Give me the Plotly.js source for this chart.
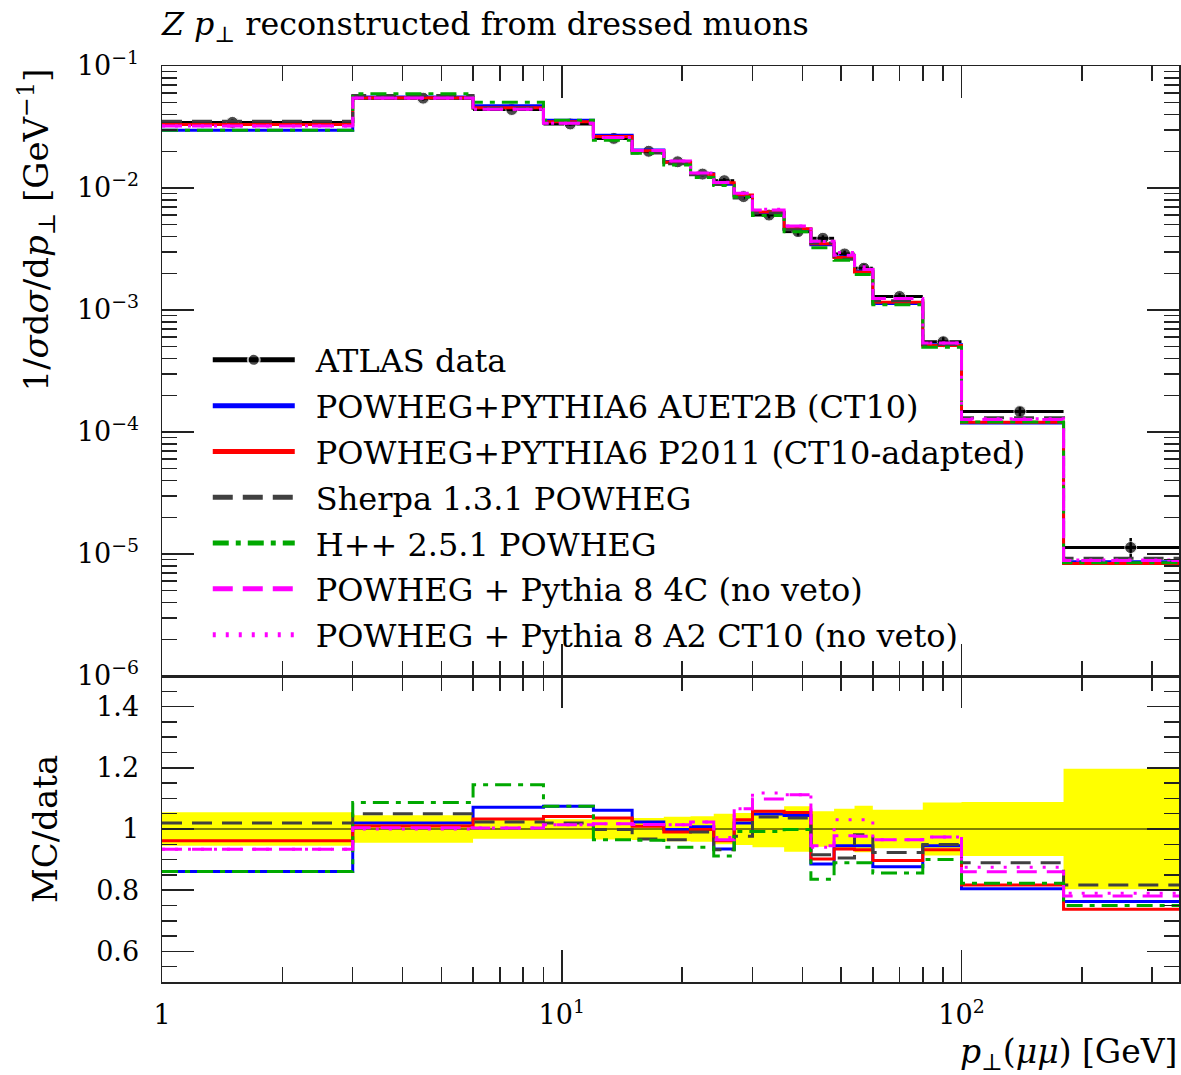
<!DOCTYPE html>
<html><head><meta charset="utf-8">
<script src="https://cdn.plot.ly/plotly-3.0.1.min.js"></script>
<style>html,body{margin:0;padding:0;background:#fff}</style>
</head><body>
<div id="chart" style="width:1181px;height:1075px"></div>
<script>
// ---- data ----
const binEdges = [0,3,6,9,12,15,18,21,24,27,30,36,42,48,54,60,80,100,180,350];
const atlasData = [0.0345,0.0545,0.0440,0.0335,0.0255,0.0200,0.0164,0.0130,0.01148,0.0085,
                   0.0060,0.00439,0.00387,0.00288,0.00220,0.00129,0.00055,0.000147,0.0000113];
const atlasRelErr = [0.055,0.045,0.032,0.032,0.034,0.036,0.040,0.042,0.050,0.052,
                     0.060,0.074,0.058,0.066,0.076,0.063,0.087,0.088,0.197];
const ratioAUET2B = [0.861,1.020,1.071,1.074,1.061,1.023,0.998,1.007,0.935,1.020,
                     1.049,1.044,0.886,0.945,0.945,0.877,0.945,0.805,0.763];
const ratioP2011  = [0.962,1.010,1.033,1.041,1.036,1.009,0.990,0.998,0.962,1.030,
                     1.058,1.054,0.902,0.935,0.932,0.897,0.932,0.817,0.738];
const ratioSherpa = [1.020,1.050,1.023,1.020,0.998,0.967,0.965,0.990,0.932,0.976,
                     1.039,1.036,0.916,0.905,0.981,0.923,0.949,0.890,0.817];
const ratioHerwig = [0.861,1.087,1.145,1.074,0.965,0.963,0.940,0.940,0.912,0.992,
                     0.992,0.998,0.836,0.890,0.890,0.856,0.900,0.823,0.750];
const ratioPy8_4C = [0.934,1.004,1.003,1.014,1.017,1.015,1.014,1.023,0.965,1.066,
                     1.098,1.112,0.945,0.978,0.976,0.965,0.974,0.860,0.781];
const ratioPy8_A2 = [0.934,1.000,1.003,1.014,1.017,1.015,1.014,1.023,0.972,1.066,
                     1.118,1.112,0.940,1.030,1.030,0.965,0.974,0.875,0.790];
const seriesNames = ['ATLAS data','POWHEG+PYTHIA6 AUET2B (CT10)','POWHEG+PYTHIA6 P2011 (CT10-adapted)',
                     'Sherpa 1.3.1 POWHEG','H++ 2.5.1 POWHEG','POWHEG + Pythia 8 4C (no veto)',
                     'POWHEG + Pythia 8 A2 CT10 (no veto)'];
const xTickVals = [1,10,100];
const xTickText = ['1','10<sup>1</sup>','10<sup>2</sup>'];
const yTickVals = [1e-6,1e-5,1e-4,1e-3,1e-2,1e-1];
const yTickText = ['10<sup>−6</sup>','10<sup>−5</sup>','10<sup>−4</sup>','10<sup>−3</sup>','10<sup>−2</sup>','10<sup>−1</sup>'];
const rTickVals = [0.6,0.8,1,1.2,1.4];
const rTickText = ['0.6','0.8','1','1.2','1.4'];

// ---- styles ----
const FONT = 'DejaVu Serif';
const xMin = 1, xMax = 350;
const styles = [
  {color:'#0000ff', dash:'solid'},
  {color:'#ff0000', dash:'solid'},
  {color:'#404040', dash:'20px,10px'},
  {color:'#00a800', dash:'16px,7px,5px,7px'},
  {color:'#ff00ff', dash:'20px,10px'},
  {color:'#ff00ff', dash:'3px,10px'}
];
const ratios = [ratioAUET2B, ratioP2011, ratioSherpa, ratioHerwig, ratioPy8_4C, ratioPy8_A2];

const plotEdges = binEdges.map(e => Math.max(e, xMin));
const stepY = v => v.concat([v[v.length-1]]);
const legendLabel = s => '\u2002' + s;

const traces = [];
// data trace in main panel: horizontal bin bars + centre marker + vertical error
const dx=[], dy=[], ds=[], de=[];
for (let i=0;i<atlasData.length;i++){
  const lo = plotEdges[i], hi = plotEdges[i+1], mid = (binEdges[i]+binEdges[i+1])/2;
  dx.push(lo, mid, hi, null);
  dy.push(atlasData[i], atlasData[i], atlasData[i], null);
  ds.push(0, 12, 0, 0);
  de.push(0, atlasData[i]*atlasRelErr[i], 0, 0);
}
traces.push({x:dx, y:dy, xaxis:'x', yaxis:'y', mode:'lines+markers', name:legendLabel(seriesNames[0]),
  legendgroup:'g0', line:{color:'#000', width:3}, marker:{color:'#000', size:ds},
  error_y:{type:'data', array:de, symmetric:true, width:0, thickness:2.5, color:'#000'},
  connectgaps:false});
// MC in main panel
ratios.forEach((r,k)=>{
  const vals = atlasData.map((d,i)=>d*r[i]);
  traces.push({x:plotEdges, y:stepY(vals), xaxis:'x', yaxis:'y', mode:'lines', name:legendLabel(seriesNames[k+1]),
    legendgroup:'g'+(k+1), line:{color:styles[k].color, dash:styles[k].dash, width:3, shape:'hv'}});
});
// ratio panel: band
const lowBand = atlasRelErr.map(e=>1-e), upBand = atlasRelErr.map(e=>1+e);
traces.push({x:plotEdges, y:stepY(lowBand), xaxis:'x2', yaxis:'y2', mode:'lines', showlegend:false,
  line:{width:0, shape:'hv', color:'#ffff00'}, hoverinfo:'skip'});
traces.push({x:plotEdges, y:stepY(upBand), xaxis:'x2', yaxis:'y2', mode:'lines', showlegend:false,
  fill:'tonexty', fillcolor:'#ffff00', line:{width:0, shape:'hv', color:'#ffff00'}, hoverinfo:'skip'});
traces.push({x:plotEdges, y:stepY(atlasData.map(d=>d/d)), xaxis:'x2', yaxis:'y2', mode:'lines', showlegend:false,
  line:{width:1.2, shape:'hv', color:'#000'}});
ratios.forEach((r,k)=>{
  traces.push({x:plotEdges, y:stepY(r), xaxis:'x2', yaxis:'y2', mode:'lines', showlegend:false,
    line:{color:styles[k].color, dash:styles[k].dash, width:3, shape:'hv'}});
});

// minor tick positions
const minorX=[]; [1,10,100].forEach(d=>{for(let m=2;m<=9;m++){const v=m*d; if(v<=xMax) minorX.push(v);}});
const minorY=[]; for(let p=-6;p<=-2;p++){for(let m=2;m<=9;m++) minorY.push(m*Math.pow(10,p));}
const minorR=[]; for(let i=11;i<30;i++){ if(i%4!==0) minorR.push(i*0.05); }

const tc='#222';
const axBase = {showline:true, linecolor:tc, linewidth:1.5, mirror:'allticks', ticks:'inside',
  ticklen:32, tickwidth:1.5, tickcolor:tc, showgrid:false, zeroline:false, tickmode:'array',
  tickfont:{family:FONT, size:27, color:'#000'}};
const minorBase = {tickmode:'array', ticks:'inside', ticklen:15, tickwidth:1.5, tickcolor:tc, showgrid:false};

const split = 306/916;
const layout = {
  width:1181, height:1075,
  margin:{l:162, r:2, t:66, b:93},
  paper_bgcolor:'#fff', plot_bgcolor:'rgba(0,0,0,0)',
  showlegend:true,
  title:{text:'<i>Z</i> <i>p</i><sub>⊥</sub> reconstructed from dressed muons',
    xref:'paper', x:0, xanchor:'left', yref:'container', y:1-24/1075, yanchor:'middle',
    font:{family:FONT, size:31.7, color:'#000'}},
  xaxis:Object.assign({}, axBase, {type:'log', range:[0, Math.log10(xMax)], anchor:'y', domain:[0,1],
    tickvals:xTickVals, showticklabels:false, minor:Object.assign({tickvals:minorX}, minorBase)}),
  xaxis2:Object.assign({}, axBase, {type:'log', range:[0, Math.log10(xMax)], anchor:'y2', domain:[0,1],
    tickvals:xTickVals, ticktext:xTickText, ticklabelstandoff:8, minor:Object.assign({tickvals:minorX}, minorBase)}),
  yaxis:Object.assign({}, axBase, {type:'log', range:[-6,-1], anchor:'x', domain:[split,1],
    tickvals:yTickVals, ticktext:yTickText, ticklabelstandoff:16, minor:Object.assign({tickvals:minorY}, minorBase)}),
  yaxis2:Object.assign({}, axBase, {range:[0.5,1.5], anchor:'x2', domain:[0,split],
    tickvals:rTickVals, ticktext:rTickText, ticklabelstandoff:16, minor:Object.assign({tickvals:minorR}, minorBase)}),
  legend:{x:0.045, xanchor:'left', y:0.709, yanchor:'top', bgcolor:'rgba(0,0,0,0)', borderwidth:0,
    font:{family:FONT, size:32, color:'#000'}, itemwidth:82, itemsizing:'constant',
    traceorder:'grouped', tracegroupgap:1.2},
  annotations:[
    {text:'1/<i>σ</i>d<i>σ</i>/d<i>p</i><sub>⊥</sub> [GeV<sup>−1</sup>]', textangle:-90, showarrow:false,
     xref:'paper', yref:'paper', x:(36-162)/1017, xanchor:'center', y:1-(67-66)/916, yanchor:'top',
     font:{family:FONT, size:34, color:'#000'}},
    {text:'MC/data', textangle:-90, showarrow:false, xref:'paper', yref:'paper',
     x:(45-162)/1017, xanchor:'center', y:split/2, yanchor:'middle', font:{family:FONT, size:34, color:'#000'}},
    {text:'<i>p</i><sub>⊥</sub>(<i>μμ</i>) [GeV]', showarrow:false, xref:'paper', yref:'paper',
     x:1, xanchor:'right', y:-(1053-982)/916, yanchor:'middle', font:{family:FONT, size:33, color:'#000'}}
  ]
};
Plotly.newPlot('chart', traces, layout, {displayModeBar:false, staticPlot:true});
</script>
</body></html>
